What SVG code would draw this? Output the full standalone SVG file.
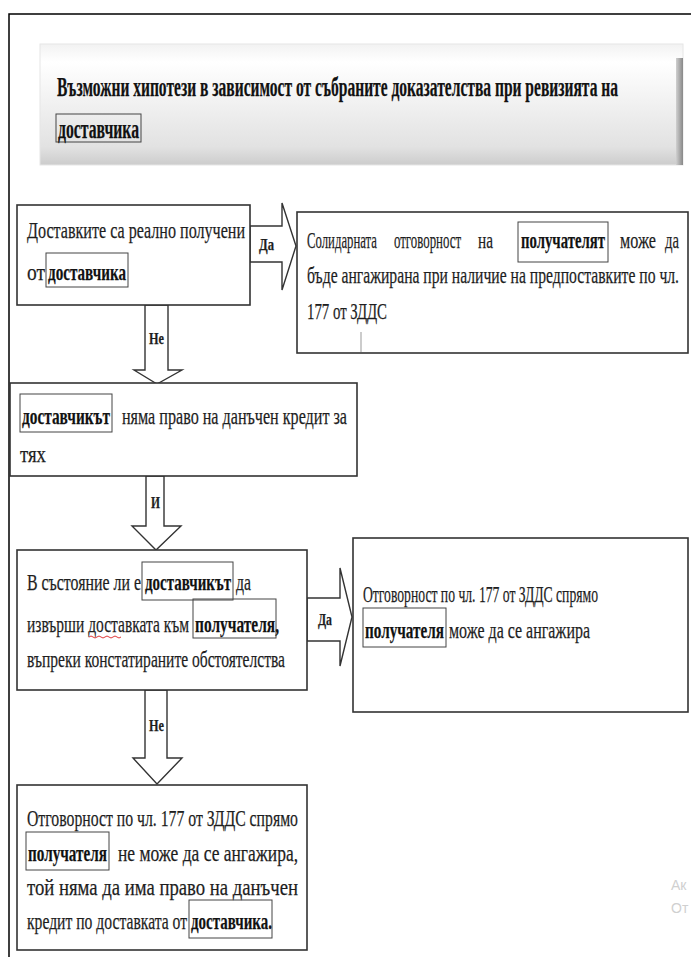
<svg xmlns="http://www.w3.org/2000/svg" width="691" height="957" viewBox="0 0 691 957">
<defs>
<linearGradient id="tg" x1="0" y1="0" x2="0" y2="1">
<stop offset="0" stop-color="#f2f2f2"/>
<stop offset="0.15" stop-color="#ffffff"/>
<stop offset="0.85" stop-color="#e2e2e2"/>
<stop offset="1" stop-color="#cccccc"/>
</linearGradient>
<linearGradient id="rs" x1="0" y1="0" x2="1" y2="0">
<stop offset="0" stop-color="#d0d0d0"/>
<stop offset="1" stop-color="#888888"/>
</linearGradient>
</defs>
<style>
text{font-family:"Liberation Serif","Times New Roman",serif;font-size:24px;fill:#1e1e1e;stroke:#1e1e1e;stroke-width:0.25}
.b{font-weight:bold;fill:#111}
.t{font-size:27px}
.box{fill:#fff;stroke:#333;stroke-width:1.6}
.hl{fill:none;stroke:#444;stroke-width:1}
.arr{fill:#fff;stroke:#333;stroke-width:1.4;stroke-linejoin:miter}
.lbl{font-weight:bold;font-size:17px}
.wm{fill:#d0d0d0;stroke:none;font-size:14px;font-family:"Liberation Sans",sans-serif}
</style>
<rect width="691" height="957" fill="#fff"/>
<path d="M9 957 V14 H691" fill="none" stroke="#000" stroke-width="1.5"/>

<g id="title">
<rect x="40" y="44" width="643" height="121" fill="url(#tg)" stroke="#e6e6e6" stroke-width="1"/>
<rect x="676" y="58" width="7" height="107" fill="url(#rs)"/>
<text class="b t" x="57" y="96" textLength="561" lengthAdjust="spacingAndGlyphs">Възможни хипотези в зависимост от събраните доказателства при ревизията на</text>
<rect class="hl" x="56" y="114" width="85" height="28"/>
<text class="b t" x="58" y="138" textLength="81" lengthAdjust="spacingAndGlyphs">доставчика</text>
</g>

<g id="connectors">
<polygon class="arr" points="250,226 282,226 282,203 296,246 282,290 282,262 250,262"/>
<text class="lbl" x="259" y="250" textLength="15" lengthAdjust="spacingAndGlyphs">Да</text>
<polygon class="arr" points="145,305 145,370 134,370 157,384 182,370 168,370 168,305"/>
<text class="lbl" x="149" y="344" textLength="15" lengthAdjust="spacingAndGlyphs">Не</text>
<polygon class="arr" points="146,476 146,526 132,526 156,550 181,526 164,526 164,476"/>
<text class="lbl" x="151" y="508" textLength="9" lengthAdjust="spacingAndGlyphs">И</text>
<polygon class="arr" points="307,598 340,598 340,568 352,617 340,666 340,641 307,641"/>
<text class="lbl" x="318" y="625" textLength="14" lengthAdjust="spacingAndGlyphs">Да</text>
<polygon class="arr" points="145,690 145,758 133,758 157,784 182,758 167,758 167,690"/>
<text class="lbl" x="149" y="731" textLength="15" lengthAdjust="spacingAndGlyphs">Не</text>
</g>

<g id="n1">
<rect class="box" x="17" y="205" width="233" height="100"/>
<text x="27" y="238" textLength="218" lengthAdjust="spacingAndGlyphs">Доставките са реално получени</text>
<text x="27" y="280" textLength="18" lengthAdjust="spacingAndGlyphs">от</text>
<rect class="hl" x="46" y="253" width="82" height="34"/>
<text class="b" x="48" y="280" textLength="78" lengthAdjust="spacingAndGlyphs">доставчика</text>
</g>

<g id="n2">
<rect class="box" x="297" y="212" width="391" height="141"/>
<text x="307" y="248" textLength="70" lengthAdjust="spacingAndGlyphs">Солидарната</text>
<text x="394" y="248" textLength="67" lengthAdjust="spacingAndGlyphs">отговорност</text>
<text x="478" y="248" textLength="15" lengthAdjust="spacingAndGlyphs">на</text>
<rect class="hl" x="518" y="222" width="90" height="40"/>
<text class="b" x="521" y="248" textLength="84" lengthAdjust="spacingAndGlyphs">получателят</text>
<text x="620" y="248" textLength="36" lengthAdjust="spacingAndGlyphs">може</text>
<text x="665" y="248" textLength="14" lengthAdjust="spacingAndGlyphs">да</text>
<text x="307" y="283" textLength="372" lengthAdjust="spacingAndGlyphs">бъде ангажирана при наличие на предпоставките по чл.</text>
<text x="307" y="319" textLength="80" lengthAdjust="spacingAndGlyphs">177 от ЗДДС</text>
<line x1="361" y1="332" x2="361" y2="352" stroke="#999" stroke-width="1"/>
</g>

<g id="n3">
<rect class="box" x="10" y="383" width="347" height="93"/>
<rect class="hl" x="20" y="394" width="92" height="38"/>
<text class="b" x="22" y="424" textLength="88" lengthAdjust="spacingAndGlyphs">доставчикът</text>
<text x="122" y="424" textLength="225" lengthAdjust="spacingAndGlyphs">няма право на данъчен кредит за</text>
<text x="20" y="462" textLength="26" lengthAdjust="spacingAndGlyphs">тях</text>
</g>

<g id="n4">
<rect class="box" x="17" y="550" width="290" height="140"/>
<text x="27" y="590" textLength="114" lengthAdjust="spacingAndGlyphs">В състояние ли е</text>
<rect class="hl" x="142" y="562" width="91" height="38"/>
<text class="b" x="145" y="590" textLength="86" lengthAdjust="spacingAndGlyphs">доставчикът</text>
<text x="236" y="590" textLength="15" lengthAdjust="spacingAndGlyphs">да</text>
<text x="27" y="632" textLength="162" lengthAdjust="spacingAndGlyphs">извърши доставката към</text>
<rect class="hl" x="193" y="599" width="83" height="39"/>
<text class="b" x="195" y="632" textLength="84" lengthAdjust="spacingAndGlyphs">получателя,</text>
<path d="M89 637 q2 -2 4 0 t4 0 t4 0 t4 0 t4 0 t4 0 t4 0 t4 0" fill="none" stroke="#d22" stroke-width="0.9"/>
<text x="27" y="667" textLength="258" lengthAdjust="spacingAndGlyphs">въпреки констатираните обстоятелства</text>
</g>

<g id="n5">
<rect class="box" x="353" y="538" width="335" height="174"/>
<text x="363" y="602" textLength="235" lengthAdjust="spacingAndGlyphs">Отговорност по чл. 177 от ЗДДС спрямо</text>
<rect class="hl" x="363" y="608" width="83" height="39"/>
<text class="b" x="365" y="638" textLength="79" lengthAdjust="spacingAndGlyphs">получателя</text>
<text x="449" y="638" textLength="141" lengthAdjust="spacingAndGlyphs">може да се ангажира</text>
</g>

<g id="n6">
<rect class="box" x="17" y="785" width="290" height="165"/>
<text x="27" y="826" textLength="271" lengthAdjust="spacingAndGlyphs">Отговорност по чл. 177 от ЗДДС спрямо</text>
<rect class="hl" x="26" y="832" width="83" height="38"/>
<text class="b" x="28" y="861" textLength="79" lengthAdjust="spacingAndGlyphs">получателя</text>
<text x="118" y="861" textLength="180" lengthAdjust="spacingAndGlyphs">не  може  да  се  ангажира,</text>
<text x="27" y="895" textLength="271" lengthAdjust="spacingAndGlyphs">той  няма  да  има  право  на  данъчен</text>
<text x="27" y="929" textLength="160" lengthAdjust="spacingAndGlyphs">кредит по доставката от</text>
<rect class="hl" x="189" y="900" width="83" height="38"/>
<text class="b" x="191" y="929" textLength="81" lengthAdjust="spacingAndGlyphs">доставчика.</text>
</g>

<text class="wm" x="671" y="890">Ак</text>
<text class="wm" x="671" y="913">От</text>
</svg>
